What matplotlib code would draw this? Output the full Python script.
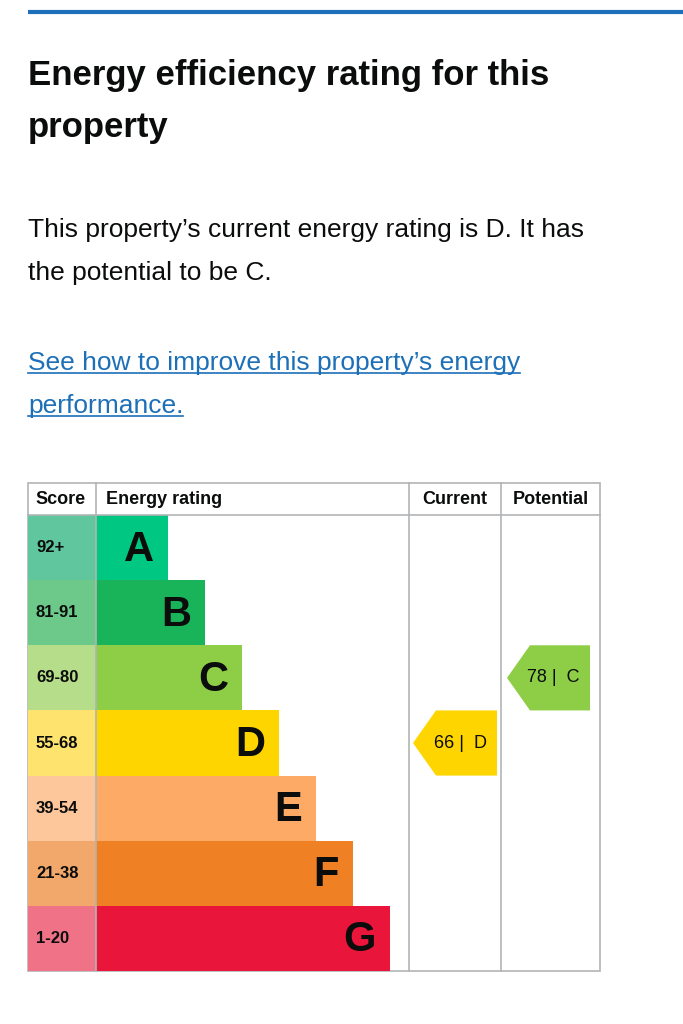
import matplotlib.pyplot as plt
from matplotlib.patches import Polygon, Rectangle

plt.rcParams['font.family'] = ['Liberation Sans', 'DejaVu Sans']

bands = ['A', 'B', 'C', 'D', 'E', 'F', 'G']
score_ranges = ['92+', '81-91', '69-80', '55-68', '39-54', '21-38', '1-20']
band_min = [92, 81, 69, 55, 39, 21, 1]
bar_colors = ['#00c781', '#19b459', '#8dce46', '#ffd500', '#fcaa65', '#ef8023', '#e9153b']
score_colors = ['#5fc69d', '#6cc98a', '#b6dd8a', '#ffe36f', '#fdc69b', '#f2a86b', '#ef7287']
current_score, current_band = 66, 'D'
potential_score, potential_band = 78, 'C'

title_lines = ['Energy efficiency rating for this', 'property']
body_lines = ["This property\u2019s current energy rating is D. It has", 'the potential to be C.']
link_lines = ["See how to improve this property\u2019s energy", 'performance.']
headers = ['Score', 'Energy rating', 'Current', 'Potential']

blue = '#1d70b8'
grid = '#b1b4b6'

fig = plt.figure(figsize=(6.83, 10.24), dpi=100)
ax = fig.add_axes([0, 0, 1, 1])
ax.set_xlim(0, 683)
ax.set_ylim(1024, 0)
ax.axis('off')

# top rule
ax.plot([28, 683], [12, 12], color=blue, lw=3, solid_capstyle='butt')

for i, line in enumerate(title_lines):
    ax.text(28, 76 + i * 52, line, fontsize=25, fontweight='bold', va='center', ha='left', color='#0b0c0c')
for i, line in enumerate(body_lines):
    ax.text(28, 230 + i * 43, line, fontsize=19, va='center', ha='left', color='#0b0c0c')
link_texts = []
for i, line in enumerate(link_lines):
    link_texts.append(ax.text(28, 363 + i * 43, line, fontsize=19, va='center', ha='left', color=blue))

# table geometry (pixels)
left, right, top, bottom = 28, 600, 483, 971
col_score, col_cur, col_pot = 96, 409, 501
head_h = 32
row_h = (bottom - top - head_h) / len(bands)
bar_step = 37
bar_base = 72

ax.add_patch(Rectangle((left, top), right - left, bottom - top, fill=False, ec=grid, lw=1.2))
ax.plot([left, right], [top + head_h] * 2, color=grid, lw=1.2)
for x in [col_score, col_cur, col_pot]:
    ax.plot([x, x], [top, bottom], color=grid, lw=1.2)

hx = [left + 7, col_score + 10, (col_cur + col_pot) / 2, (col_pot + right) / 2]
ha = ['left', 'left', 'center', 'center']
for x, h, a in zip(hx, headers, ha):
    ax.text(x, top + head_h / 2 + 1, h, fontsize=13, fontweight='bold', va='center', ha=a, color='#0b0c0c')

ys = [top + head_h + row_h * (i + 0.5) for i in range(len(bands))]
widths = [bar_base + bar_step * i for i in range(len(bands))]
ax.barh(ys, [col_score - left] * len(bands), left=left, height=row_h, color=score_colors)
ax.barh(ys, widths, left=col_score, height=row_h, color=bar_colors)
for y, s, b, w in zip(ys, score_ranges, bands, widths):
    ax.text(left + 8, y, s, fontsize=12, fontweight='bold', va='center', ha='left', color='#0b0c0c')
    ax.text(col_score + w - 14, y + 2, b, fontsize=30, fontweight='bold', va='center', ha='right', color='#0b0c0c')


def band_index(score):
    for i, m in enumerate(band_min):
        if score >= m:
            return i
    return len(band_min) - 1


def rating_arrow(x0, x1, score, band):
    i = band_index(score)
    y = ys[i]
    h = row_h / 2
    tip = 23
    pts = [(x0, y), (x0 + tip, y - h), (x1, y - h), (x1, y + h), (x0 + tip, y + h)]
    ax.add_patch(Polygon(pts, closed=True, color=bar_colors[i], lw=0))
    ax.text((x0 + x1) / 2 + 5, y, f'{score} |  {band}', fontsize=13, va='center', ha='center', color='#0b0c0c')


rating_arrow(col_cur + 4, col_cur + 88, current_score, current_band)
rating_arrow(col_pot + 6, col_pot + 89, potential_score, potential_band)

# underline the link
fig.canvas.draw()
r = fig.canvas.get_renderer()
inv = ax.transData.inverted()
for t in link_texts:
    bb = t.get_window_extent(r)
    (x0, y0), (x1, y1) = inv.transform([(bb.x0, bb.y0), (bb.x1, bb.y1)])
    ax.plot([x0, x1], [y0 - 2, y0 - 2], color=blue, lw=1.2)

fig.savefig('out.png', dpi=100)
